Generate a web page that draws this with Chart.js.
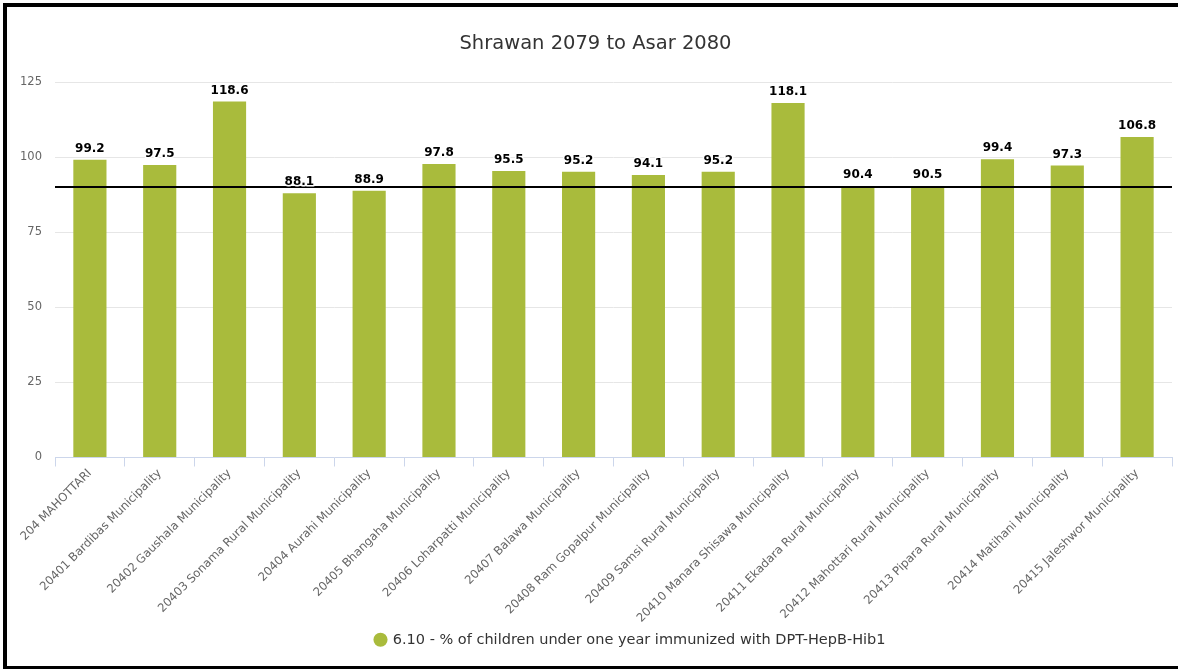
<!DOCTYPE html>
<html>
<head>
<meta charset="utf-8">
<script src="https://cdn.jsdelivr.net/npm/chart.js@4/dist/chart.umd.min.js"></script>
<style>
  html, body { margin: 0; padding: 0; background: #fff; }
  body { width: 1178px; height: 669px; position: relative; overflow: hidden; }
  #frame { position: absolute; left: 3px; top: 3px; width: 1175px; height: 666px; box-sizing: border-box;
           border-left: 4px solid #000; border-top: 4px solid #000; border-bottom: 3px solid #000; }
  #wrap { position: absolute; left: 0; top: 0; width: 1171px; height: 659px; }
</style>
</head>
<body>
<div id="frame"><div id="wrap"><canvas id="c"></canvas></div></div>
<script>
const categories = [
  "204 MAHOTTARI",
  "20401 Bardibas Municipality",
  "20402 Gaushala Municipality",
  "20403 Sonama Rural Municipality",
  "20404 Aurahi Municipality",
  "20405 Bhangaha Municipality",
  "20406 Loharpatti Municipality",
  "20407 Balawa Municipality",
  "20408 Ram Gopalpur Municipality",
  "20409 Samsi Rural Municipality",
  "20410 Manara Shisawa Municipality",
  "20411 Ekadara Rural Municipality",
  "20412 Mahottari Rural Municipality",
  "20413 Pipara Rural Municipality",
  "20414 Matihani Municipality",
  "20415 Jaleshwor Municipality"
];
const values = [99.2, 97.5, 118.6, 88.1, 88.9, 97.8, 95.5, 95.2, 94.1, 95.2, 118.1, 90.4, 90.5, 99.4, 97.3, 106.8];
const seriesName = "6.10 - % of children under one year immunized with DPT-HepB-Hib1";
const titleText = "Shrawan 2079 to Asar 2080";
const targetValue = 90;
const yTicks = [0, 25, 50, 75, 100, 125];

const FONT = "'DejaVu Sans', Verdana, sans-serif";

const overlayPlugin = {
  id: 'overlay',
  afterLayout(chart) {
    // shift legend and title boxes slightly right to match reference centring
    if (chart.legend) { chart.legend.left += 41; chart.legend.right += 41; }
    if (chart.titleBlock) { chart.titleBlock.left += 6; chart.titleBlock.right += 6; }
  },
  afterDatasetsDraw(chart) {
    const ctx = chart.ctx;
    const ys = chart.scales.y;
    const area = chart.chartArea;
    const yp = Math.round(ys.getPixelForValue(targetValue));
    ctx.save();
    ctx.strokeStyle = '#000';
    ctx.lineWidth = 2;
    ctx.beginPath();
    ctx.moveTo(area.left, yp);
    ctx.lineTo(area.right, yp);
    ctx.stroke();
    const meta = chart.getDatasetMeta(0);
    ctx.font = "bold 12px " + FONT;
    ctx.textAlign = 'center';
    ctx.textBaseline = 'bottom';
    meta.data.forEach((el, i) => {
      const txt = values[i].toFixed(1);
      ctx.lineWidth = 3;
      ctx.strokeStyle = '#fff';
      ctx.lineJoin = 'round';
      ctx.strokeText(txt, el.x, el.y - 5);
      ctx.fillStyle = '#000';
      ctx.fillText(txt, el.x, el.y - 5);
    });
    ctx.restore();
  }
};

new Chart(document.getElementById('c'), {
  type: 'bar',
  data: {
    labels: categories,
    datasets: [{
      label: seriesName,
      data: values,
      backgroundColor: '#a9bb3c',
      borderWidth: 0,
      categoryPercentage: 1,
      barPercentage: 0.475
    }]
  },
  options: {
    responsive: true,
    maintainAspectRatio: false,
    animation: false,
    layout: { padding: { left: 0, right: 6, top: 0, bottom: 9 } },
    plugins: {
      title: {
        display: true,
        text: titleText,
        color: '#333',
        font: { family: FONT, size: 19.5, weight: 'normal' },
        padding: { top: 25, bottom: 27 }
      },
      legend: {
        display: true,
        position: 'bottom',
        labels: {
          usePointStyle: true,
          pointStyle: 'circle',
          boxWidth: 10,
          boxHeight: 10,
          color: '#333',
          font: { family: FONT, size: 14.5 },
          padding: 10
        }
      },
      tooltip: { enabled: false }
    },
    scales: {
      x: {
        afterFit(scale) { scale.height = 165; },
        grid: { display: true, drawOnChartArea: false, color: '#ccd6eb', tickLength: 9, offset: true },
        border: { display: true, color: '#ccd6eb' },
        ticks: {
          color: '#666',
          font: { family: FONT, size: 11.7 },
          minRotation: 45,
          maxRotation: 45,
          autoSkip: false,
          padding: 0
        }
      },
      y: {
        min: 0,
        max: 125,
        afterFit(scale) { scale.width = 48; },
        afterBuildTicks(scale) { scale.ticks = yTicks.map(v => ({ value: v })); },
        grid: { color: '#e6e6e6', drawTicks: false },
        border: { display: false },
        ticks: {
          color: '#666',
          font: { family: FONT, size: 11.5 },
          padding: 13
        }
      }
    }
  },
  plugins: [overlayPlugin]
});
</script>
</body>
</html>
